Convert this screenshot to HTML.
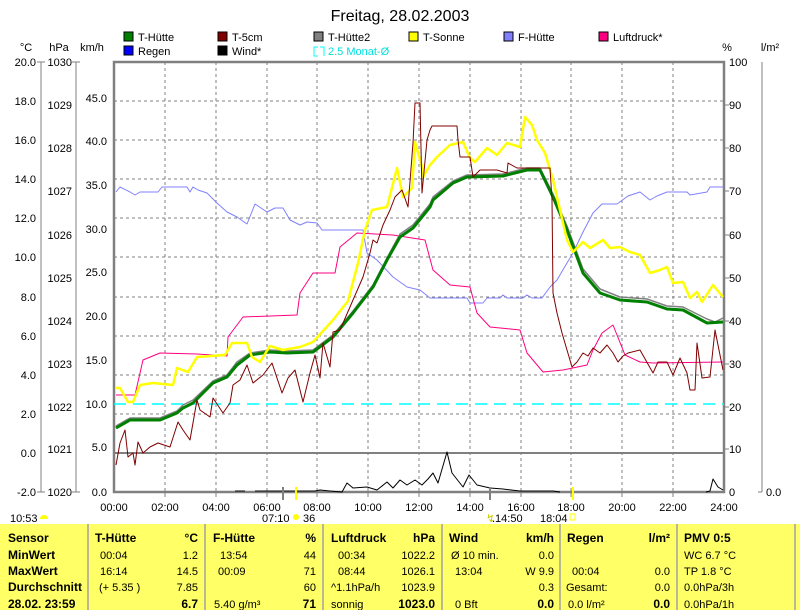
<!DOCTYPE html>
<html><head><meta charset="utf-8"><style>
body{margin:0;background:#fff;width:800px;height:610px;overflow:hidden;font-family:"Liberation Sans",Arial,sans-serif}
svg{position:absolute;left:0;top:0}
</style></head><body>
<svg width="800" height="610" xmlns="http://www.w3.org/2000/svg" font-family="Liberation Sans, Arial, sans-serif">
<text x="400" y="21" font-size="16" text-anchor="middle">Freitag, 28.02.2003</text>
<g font-size="11">
<rect x="124" y="32" width="9" height="9" fill="#008000" stroke="#000"/><text x="138" y="41">T-Hütte</text>
<rect x="218" y="32" width="9" height="9" fill="#800000" stroke="#000"/><text x="232" y="41">T-5cm</text>
<rect x="314" y="32" width="9" height="9" fill="#808080" stroke="#000"/><text x="328" y="41">T-Hütte2</text>
<rect x="409" y="32" width="9" height="9" fill="#ffff00" stroke="#000"/><text x="423" y="41">T-Sonne</text>
<rect x="504" y="32" width="9" height="9" fill="#8080ff" stroke="#000"/><text x="518" y="41">F-Hütte</text>
<rect x="599" y="32" width="9" height="9" fill="#ff0080" stroke="#000"/><text x="613" y="41">Luftdruck*</text>
<rect x="124" y="46" width="9" height="9" fill="#0000ff" stroke="#000"/><text x="138" y="55">Regen</text>
<rect x="218" y="46" width="9" height="9" fill="#000" stroke="#000"/><text x="232" y="55">Wind*</text>
<path d="M318 47 H314 V56 H318 M320 47 H324 V56" fill="none" stroke="#00ffff"/><text x="328" y="55" fill="#00e0e0">2.5 Monat-Ø</text>
<text x="26" y="51" text-anchor="middle">°C</text><text x="59" y="51" text-anchor="middle">hPa</text><text x="92" y="51" text-anchor="middle">km/h</text>
<text x="727" y="51" text-anchor="middle">%</text><text x="770" y="51" text-anchor="middle">l/m²</text>
</g>
<g font-size="11" text-anchor="end">
<text x="36" y="66">20.0</text><text x="36" y="105">18.0</text><text x="36" y="144">16.0</text><text x="36" y="183">14.0</text><text x="36" y="222">12.0</text><text x="36" y="261">10.0</text><text x="36" y="301">8.0</text><text x="36" y="340">6.0</text><text x="36" y="379">4.0</text><text x="36" y="418">2.0</text><text x="36" y="457">0.0</text><text x="36" y="496">-2.0</text>
<text x="72" y="66">1030</text><text x="72" y="109">1029</text><text x="72" y="152">1028</text><text x="72" y="195">1027</text><text x="72" y="239">1026</text><text x="72" y="282">1025</text><text x="72" y="325">1024</text><text x="72" y="368">1023</text><text x="72" y="411">1022</text><text x="72" y="453">1021</text><text x="72" y="496">1020</text>
<text x="107" y="102">45.0</text><text x="107" y="145">40.0</text><text x="107" y="189">35.0</text><text x="107" y="233">30.0</text><text x="107" y="276">25.0</text><text x="107" y="320">20.0</text><text x="107" y="364">15.0</text><text x="107" y="408">10.0</text><text x="107" y="451">5.0</text><text x="107" y="496">0.0</text>
</g>
<g font-size="11">
<text x="729" y="66">100</text><text x="729" y="109">90</text><text x="729" y="152">80</text><text x="729" y="195">70</text><text x="729" y="239">60</text><text x="729" y="282">50</text><text x="729" y="325">40</text><text x="729" y="368">30</text><text x="729" y="411">20</text><text x="729" y="453">10</text><text x="729" y="496">0</text>
<text x="766" y="496">0.0</text>
</g>
<g stroke="#808080" stroke-width="1">
<line x1="41" y1="62" x2="41" y2="492"/><line x1="37" y1="62" x2="45" y2="62"/><line x1="37" y1="492" x2="45" y2="492"/>
<line x1="76" y1="62" x2="76" y2="492"/><line x1="72" y1="62" x2="80" y2="62"/><line x1="72" y1="492" x2="80" y2="492"/>
<line x1="762" y1="62" x2="762" y2="492"/><line x1="758" y1="492" x2="762" y2="492"/>
</g>
<g stroke="#808080" stroke-dasharray="3,3" stroke-width="1">
<path d="M165 62V492M216 62V492M267 62V492M317 62V492M368 62V492M419 62V492M470 62V492M521 62V492M571 62V492M622 62V492M673 62V492"/>
<path d="M114 101H724M114 140H724M114 179H724M114 218H724M114 257H724M114 297H724M114 336H724M114 375H724M114 414H724"/>
</g>
<g stroke="#808080" stroke-width="1"><path d="M724 105h5M724 148h5M724 191h5M724 235h5M724 278h5M724 321h5M724 364h5M724 407h5M724 449h5"/>
<path d="M165 492v5M216 492v5M267 492v5M317 492v5M368 492v5M419 492v5M470 492v5M521 492v5M571 492v5M622 492v5M673 492v5"/></g>
<line x1="114" y1="453" x2="724" y2="453" stroke="#808080" stroke-width="2"/>
<rect x="114" y="62" width="610" height="430" fill="none" stroke="#808080" stroke-width="2.5"/>
<line x1="114" y1="404" x2="724" y2="404" stroke="#00ffff" stroke-width="1.5" stroke-dasharray="12,7"/>
<g fill="none" stroke-linejoin="round">
<polyline stroke="#8080ff" points="116,192 120,187 130,192 135,195 140,192 158,192 162,187 187,187 190,192 193,187 198,190 207,193 217,203 227,212 237,217 247,224 255,204 267,212 275,208 283,208 290,220 300,225 307,222 317,223 322,230 363,230 367,253 377,260 393,277 407,287 420,290 430,298 467,298 470,303 483,303 487,298 500,298 503,295 507,298 523,298 527,295 532,298 542,298 550,287 557,280 567,263 573,253 583,232 593,213 602,204 617,204 628,196 640,192 650,200 657,196 667,192 687,192 690,195 707,192 710,187 723,187"/>
<polyline stroke="#ff0080" points="116,395 135,395 143,360 160,353 197,354 227,356 228,337 243,317 297,315 300,293 313,273 335,273 340,247 357,233 393,235 425,240 433,270 450,285 470,287 477,313 490,327 520,330 527,353 543,372 563,370 587,365 593,350 602,333 613,325 625,355 640,362 653,363 723,362"/>
<polyline stroke="#808080" stroke-width="1.5" points="116,426 130,418 160,418 177,411 183,405 193,400 213,381 227,375 237,362 250,353 270,350 287,351 313,350 333,335 353,311 373,285 387,258 400,234 413,225 430,204 433,197 453,181 467,175 503,174 527,168 540,168 553,194 567,226 583,269 600,289 620,297 647,299 667,306 683,307 707,319 715,322 723,318"/>
<polyline stroke="#008000" stroke-width="3" points="116,428 130,420 160,420 177,413 183,408 193,403 213,383 227,377 237,365 250,355 270,352 287,353 313,352 333,337 353,313 373,287 387,260 400,237 413,228 430,207 433,200 453,183 467,177 503,176 527,170 540,170 553,197 567,230 583,273 600,293 620,300 647,302 667,309 683,310 707,323 723,322"/>
<polyline stroke="#ffff00" stroke-width="2.5" points="116,388 120,388 128,402 133,402 140,385 153,383 173,385 177,368 188,372 197,357 225,355 232,343 247,343 252,357 260,362 270,346 283,350 300,347 313,342 333,320 348,301 358,263 365,230 372,210 387,207 397,168 403,197 412,188 415,142 422,167 423,177 430,165 437,157 450,145 463,142 470,158 475,162 487,148 497,155 507,143 520,147 525,117 532,125 537,140 545,153 553,180 567,240 573,252 583,242 590,248 603,240 610,248 620,247 630,252 640,255 650,273 660,270 667,267 673,283 683,282 690,298 697,292 702,302 713,285 723,297"/>
<polyline stroke="#800000" points="116,465 120,443 125,430 128,457 133,453 135,465 138,442 143,453 150,447 158,443 170,447 178,422 183,430 190,440 197,400 200,410 210,417 213,398 223,413 230,403 233,385 240,380 247,365 253,383 263,375 272,363 282,393 288,378 295,370 303,402 310,373 315,355 320,378 323,343 330,367 333,332 340,330 353,300 363,277 370,253 373,240 377,243 383,225 390,210 395,197 402,190 408,207 413,143 415,103 420,103 422,193 427,140 430,130 432,126 457,126 458,140 460,157 470,157 473,177 480,170 497,170 507,173 508,163 517,168 550,168 552,200 553,293 557,313 562,333 567,350 572,367 577,362 583,353 588,356 593,348 600,353 607,345 613,353 618,362 623,356 628,353 640,350 653,373 658,362 667,362 673,375 680,358 687,373 690,390 695,390 697,343 702,378 710,377 715,330 723,370"/>
<polyline stroke="#000" points="235,491 245,491"/>
<polyline stroke="#000" points="255,491 300,491 315,491 320,490 330,491 342,492 347,483 353,488 367,487 377,490 387,482 393,488 400,480 407,485 415,480 422,485 428,479 433,473 438,483 447,452 452,473 463,487 469,475 477,485 490,488 503,489 520,491 553,491 560,492"/>
<polyline stroke="#000" points="706,492 710,491 713,479 718,487 723,490"/>
</g>
<line x1="283" y1="487" x2="283" y2="500" stroke="#808080" stroke-width="2"/>
<line x1="296" y1="487" x2="296" y2="500" stroke="#ffff00" stroke-width="2"/>
<line x1="490" y1="487" x2="490" y2="500" stroke="#808080" stroke-width="2"/>
<line x1="573" y1="487" x2="573" y2="500" stroke="#ffff00" stroke-width="2"/>
<g font-size="11" text-anchor="middle">
<text x="114" y="511">00:00</text><text x="165" y="511">02:00</text><text x="216" y="511">04:00</text><text x="267" y="511">06:00</text><text x="317" y="511">08:00</text><text x="368" y="511">10:00</text><text x="419" y="511">12:00</text><text x="470" y="511">14:00</text><text x="521" y="511">16:00</text><text x="571" y="511">18:00</text><text x="622" y="511">20:00</text><text x="673" y="511">22:00</text><text x="724" y="511">24:00</text>
</g>
<g font-size="11">
<text x="10" y="522">10:53</text><path d="M40 519 a4 4 0 0 1 8 0z" fill="#ffff00"/>
<text x="262" y="522">07:10</text><circle cx="296" cy="517" r="3" fill="#ffff00"/><text x="303" y="522">36</text>
<text x="486" y="522" fill="#c8c800">↯</text><text x="492" y="522">.14:50</text><text x="540" y="522">18:04</text><rect x="570" y="514" width="5" height="6" fill="none" stroke="#ffff00"/>
</g>
<rect x="0" y="524" width="800" height="86" fill="#ffff66"/>
<g stroke="#a0a0a0" stroke-width="1.5"><path d="M88 524V610M205 524V610M323 524V610M442 524V610M560 524V610M677 524V610M795 524V610"/></g>
<g font-size="12" font-weight="bold">
<text x="8" y="542">Sensor</text><text x="8" y="559">MinWert</text><text x="8" y="575">MaxWert</text><text x="8" y="591">Durchschnitt</text><text x="8" y="608">28.02. 23:59</text>
<text x="95" y="542">T-Hütte</text><text x="198" y="542" text-anchor="end">°C</text>
<text x="213" y="542">F-Hütte</text><text x="316" y="542" text-anchor="end">%</text>
<text x="331" y="542">Luftdruck</text><text x="435" y="542" text-anchor="end">hPa</text>
<text x="449" y="542">Wind</text><text x="554" y="542" text-anchor="end">km/h</text>
<text x="567" y="542">Regen</text><text x="670" y="542" text-anchor="end">l/m²</text>
<text x="684" y="542">PMV 0:5</text>
<text x="198" y="608" text-anchor="end">6.7</text><text x="316" y="608" text-anchor="end">71</text><text x="435" y="608" text-anchor="end">1023.0</text><text x="554" y="608" text-anchor="end">0.0</text><text x="670" y="608" text-anchor="end">0.0</text>
</g>
<g font-size="11">
<text x="100" y="559">00:04</text><text x="198" y="559" text-anchor="end">1.2</text>
<text x="100" y="575">16:14</text><text x="198" y="575" text-anchor="end">14.5</text>
<text x="99" y="591">(+ 5.35 )</text><text x="198" y="591" text-anchor="end">7.85</text>
<text x="220" y="559">13:54</text><text x="316" y="559" text-anchor="end">44</text>
<text x="218" y="575">00:09</text><text x="316" y="575" text-anchor="end">71</text>
<text x="316" y="591" text-anchor="end">60</text>
<text x="214" y="608">5.40 g/m³</text>
<text x="338" y="559">00:34</text><text x="435" y="559" text-anchor="end">1022.2</text>
<text x="338" y="575">08:44</text><text x="435" y="575" text-anchor="end">1026.1</text>
<text x="331" y="591">^1.1hPa/h</text><text x="435" y="591" text-anchor="end">1023.9</text>
<text x="331" y="608">sonnig</text>
<text x="451" y="559">Ø 10 min.</text><text x="554" y="559" text-anchor="end">0.0</text>
<text x="455" y="575">13:04</text><text x="554" y="575" text-anchor="end">W 9.9</text>
<text x="554" y="591" text-anchor="end">0.3</text>
<text x="455" y="608">0 Bft</text>
<text x="572" y="575">00:04</text><text x="670" y="575" text-anchor="end">0.0</text>
<text x="566" y="591">Gesamt:</text><text x="670" y="591" text-anchor="end">0.0</text>
<text x="568" y="608">0.0 l/m²</text>
<text x="684" y="559">WC 6.7 °C</text><text x="684" y="575">TP 1.8 °C</text><text x="684" y="591">0.0hPa/3h</text><text x="684" y="608">0.0hPa/1h</text>
</g>
</svg>
</body></html>
